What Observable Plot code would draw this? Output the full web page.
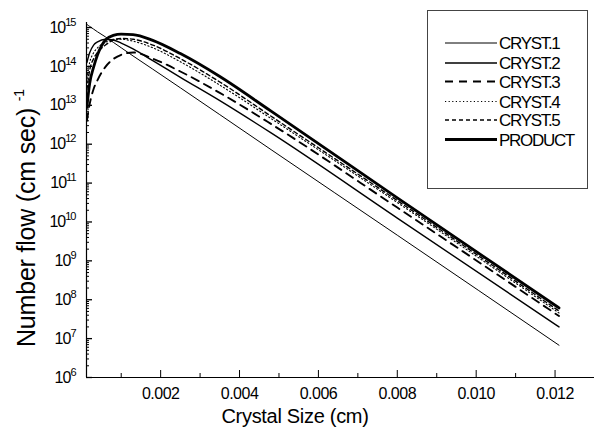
<!DOCTYPE html>
<html><head><meta charset="utf-8">
<script src="https://cdn.jsdelivr.net/npm/d3@7"></script>
<script src="https://cdn.jsdelivr.net/npm/@observablehq/plot@0.6"></script>
<style>
body{margin:0;background:#fff;}
#chart{width:594px;height:439px;}
svg{font-family:"Liberation Sans",Arial,sans-serif;}
</style></head><body><div id="chart"></div>
<script>
// Crystal size (cm)
const sizes = [0.00013, 0.0002, 0.0003, 0.0004, 0.0006, 0.0008, 0.001, 0.0013, 0.0018, 0.0025, 0.0035, 0.0048, 0.008, 0.0121];
// log10 of number flow (cm sec)^-1
const cryst1  = [15.08, 15.03, 14.96, 14.89, 14.76, 14.62, 14.48, 14.27, 13.93, 13.45, 12.76, 11.86, 9.66, 6.83];
const cryst2  = [14.10, 14.35, 14.55, 14.63, 14.70, 14.68, 14.60, 14.45, 14.15, 13.72, 13.12, 12.29, 10.10, 7.30];
const cryst3  = [12.60, 13.03, 13.42, 13.65, 13.99, 14.19, 14.30, 14.36, 14.20, 13.87, 13.32, 12.52, 10.37, 7.58];
const cryst4  = [13.70, 14.10, 14.35, 14.48, 14.62, 14.70, 14.70, 14.65, 14.48, 14.12, 13.52, 12.66, 10.50, 7.66];
const cryst5  = [13.40, 13.90, 14.20, 14.36, 14.55, 14.68, 14.72, 14.70, 14.55, 14.20, 13.60, 12.72, 10.55, 7.71];
const product = [12.95, 13.56, 13.98, 14.30, 14.68, 14.80, 14.83, 14.82, 14.67, 14.33, 13.74, 12.85, 10.62, 7.79];

const seriesNames = ["CRYST.1", "CRYST.2", "CRYST.3", "CRYST.4", "CRYST.5", "PRODUCT"];
const seriesValues = [cryst1, cryst2, cryst3, cryst4, cryst5, product];

const xTickValues = [0.002, 0.004, 0.006, 0.008, 0.010, 0.012];
const xMinorValues = [0.001, 0.003, 0.005, 0.007, 0.009, 0.011, 0.013];
const yTickExponents = [6, 7, 8, 9, 10, 11, 12, 13, 14, 15];

const styles = {
  "CRYST.1": {w: 1.0, d: null},
  "CRYST.2": {w: 1.4, d: null},
  "CRYST.3": {w: 1.9, d: "8,6"},
  "CRYST.4": {w: 1.1, d: "1.2,2.4"},
  "CRYST.5": {w: 1.4, d: "4,3"},
  "PRODUCT": {w: 2.8, d: null}
};

const rows = seriesNames.map((name, i) => sizes.map((L, j) => ({series: name, L, N: Math.pow(10, seriesValues[i][j])})));

const yMajor = yTickExponents.map(e => Math.pow(10, e));
const yMinor = [];
for (const e of yTickExponents.slice(0, -1)) for (let k = 2; k <= 9; k++) yMinor.push(k * Math.pow(10, e));

const marks = [
  Plot.ruleY([1e6], {stroke: "black", strokeWidth: 1.2}),
  Plot.ruleX([0.00012], {stroke: "black", strokeWidth: 1.2}),
  Plot.ruleX(xTickValues, {stroke: "black", insetTop: 348}),
  Plot.ruleX(xMinorValues, {stroke: "black", insetTop: 351}),
  Plot.ruleY(yMajor, {stroke: "black", strokeWidth: 1.3, insetRight: 502}),
  Plot.ruleY(yMinor, {stroke: "black", insetRight: 505}),
  Plot.axisX(xTickValues, {tickSize: 0, tickPadding: 10, tickFormat: d3.format(".3f"), label: null, fontSize: 16}),
  Plot.axisY(yMajor, {tickSize: 0, tickPadding: 11, tickFormat: d => "10" + Math.round(Math.log10(d)), label: null, fontSize: 16})
];
seriesNames.forEach((name, i) => {
  const s = styles[name];
  marks.push(Plot.line(rows[i], {x: "L", y: "N", stroke: "black", strokeWidth: s.w, strokeDasharray: s.d ?? undefined, curve: "monotone-x", clip: true}));
});

const chart = Plot.plot({
  width: 594, height: 439,
  marginLeft: 86, marginRight: 0, marginTop: 22, marginBottom: 62,
  x: {domain: [0.00012, 0.013]},
  y: {type: "log", domain: [1e6, Math.pow(10, 15.13)]},
  style: {fontFamily: "Liberation Sans, Arial, sans-serif", fontSize: "16px", background: "white", color: "black"},
  marks
});
document.getElementById("chart").appendChild(chart);

const svg = d3.select(chart);
// superscript exponents on y tick labels
svg.selectAll('g[aria-label="y-axis tick label"] text').each(function() {
  const t = d3.select(this);
  const s = t.text();
  const exp = s.slice(2);
  t.text(null).style("letter-spacing", "-1px");
  t.append("tspan").text("10");
  t.append("tspan").attr("dy", "-7").attr("font-size", "11px").text(exp);
});
svg.selectAll('g[aria-label="x-axis tick label"] text').style("letter-spacing", "-0.5px");

// axis titles
svg.append("text").attr("x", 295).attr("y", 423).attr("text-anchor", "middle")
  .attr("font-size", 20).attr("fill", "black").style("letter-spacing", "-0.3px").text("Crystal Size (cm)");
const yl = svg.append("text").attr("transform", "translate(35,347) rotate(-90)").attr("text-anchor", "start")
  .attr("font-size", 25).attr("fill", "black").style("letter-spacing", "-0.2px");
yl.append("tspan").text("Number flow (cm sec) ");
yl.append("tspan").attr("dy", -11).attr("font-size", 14).text("-1");

// legend
const lg = svg.append("g").attr("text-anchor", "start");
lg.append("rect").attr("x", 427.5).attr("y", 10.5).attr("width", 160).attr("height", 178)
  .attr("fill", "white").attr("stroke", "#444").attr("stroke-width", 1);
const rowY = [43, 63, 81.5, 101.5, 120, 139.5];
seriesNames.forEach((name, i) => {
  const s = styles[name];
  lg.append("line").attr("x1", 445).attr("x2", 497).attr("y1", rowY[i]).attr("y2", rowY[i])
    .attr("stroke", "black").attr("stroke-width", s.w).attr("stroke-dasharray", s.d);
  lg.append("text").attr("x", 499).attr("y", rowY[i] + 6).attr("font-size", 17).attr("fill", "black")
    .attr("text-anchor", "start").style("letter-spacing", "-1.3px").text(name);
});
</script></body></html>
